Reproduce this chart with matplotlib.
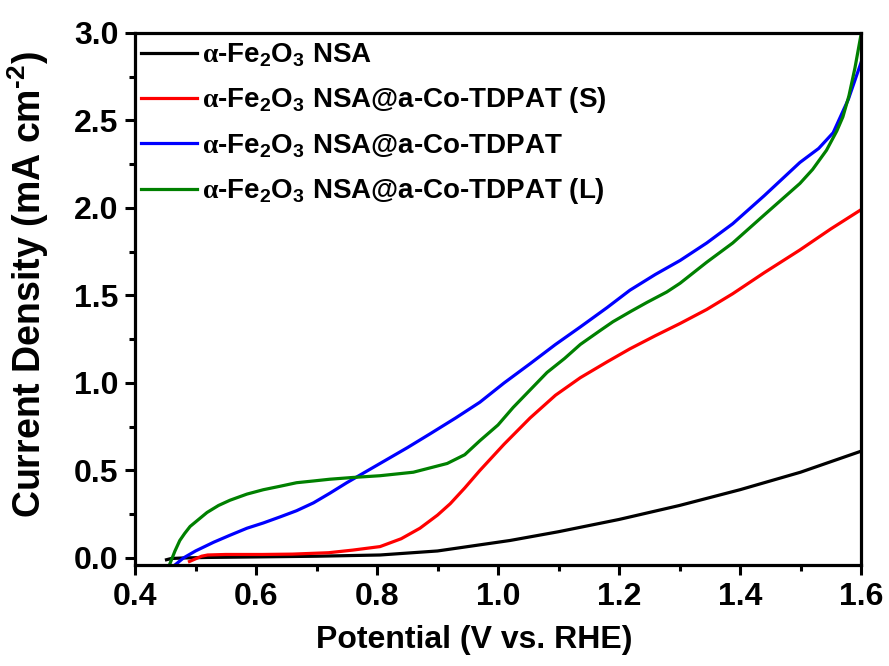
import matplotlib
matplotlib.use("Agg")
import matplotlib.pyplot as plt
from matplotlib.ticker import MultipleLocator

plt.rcParams['font.family'] = ['Liberation Sans', 'DejaVu Sans']
plt.rcParams['font.weight'] = 'bold'
plt.rcParams['mathtext.fontset'] = 'custom'
plt.rcParams['mathtext.rm'] = 'Liberation Serif'
plt.rcParams['mathtext.bf'] = 'Liberation Sans:bold'
plt.rcParams['mathtext.it'] = 'Liberation Sans:bold'

labels = [
    r'$\mathrm{α}$-Fe$_\mathbf{2}$O$_\mathbf{3}$ NSA',
    r'$\mathrm{α}$-Fe$_\mathbf{2}$O$_\mathbf{3}$ NSA@a-Co-TDPAT (S)',
    r'$\mathrm{α}$-Fe$_\mathbf{2}$O$_\mathbf{3}$ NSA@a-Co-TDPAT',
    r'$\mathrm{α}$-Fe$_\mathbf{2}$O$_\mathbf{3}$ NSA@a-Co-TDPAT (L)',
]
colors = ['black', 'red', 'blue', 'green']

black_x = [0.452, 0.46, 0.48, 0.52, 0.6, 0.7, 0.805, 0.9, 1.02, 1.1, 1.2, 1.3, 1.4, 1.5, 1.6]
black_y = [-0.01, -0.003, 0.0, 0.003, 0.006, 0.01, 0.017, 0.04, 0.10, 0.15, 0.22, 0.30, 0.39, 0.49, 0.61]

red_x = [0.49, 0.50, 0.51, 0.52, 0.55, 0.61, 0.66, 0.72, 0.76, 0.805, 0.84, 0.871, 0.90, 0.921,
         0.945, 0.97, 1.01, 1.053, 1.095, 1.136, 1.18, 1.218, 1.26, 1.301, 1.345, 1.388, 1.44,
         1.499, 1.55, 1.6]
red_y = [-0.02, -0.005, 0.01, 0.017, 0.02, 0.02, 0.022, 0.03, 0.045, 0.065, 0.11, 0.17, 0.245, 0.31,
         0.40, 0.50, 0.65, 0.80, 0.93, 1.03, 1.12, 1.195, 1.27, 1.34, 1.42, 1.51, 1.63,
         1.76, 1.88, 1.99]

blue_x = [0.466, 0.48, 0.50, 0.53, 0.557, 0.585, 0.612, 0.64, 0.667, 0.695, 0.722, 0.75, 0.78, 0.805,
          0.85, 0.888, 0.93, 0.97, 1.01, 1.053, 1.095, 1.136, 1.18, 1.218, 1.26, 1.301, 1.345, 1.388,
          1.44, 1.499, 1.53, 1.554, 1.579, 1.6]
blue_y = [-0.04, 0.00, 0.04, 0.09, 0.13, 0.17, 0.20, 0.235, 0.27, 0.315, 0.37, 0.43, 0.49, 0.54,
          0.63, 0.71, 0.80, 0.89, 1.00, 1.11, 1.22, 1.32, 1.43, 1.53, 1.62, 1.70, 1.80, 1.91,
          2.07, 2.26, 2.34, 2.43, 2.62, 2.83]

green_x = [0.458, 0.466, 0.474, 0.482, 0.491, 0.505, 0.519, 0.538, 0.557, 0.585, 0.612, 0.64, 0.667,
           0.695, 0.722, 0.76, 0.805, 0.86, 0.916, 0.945, 0.97, 1.0, 1.025, 1.053, 1.081, 1.11, 1.136,
           1.169, 1.19, 1.22, 1.246, 1.279, 1.301, 1.345, 1.388, 1.44, 1.499, 1.52, 1.543, 1.56, 1.57,
           1.58, 1.59, 1.6]
green_y = [-0.03, 0.04, 0.10, 0.14, 0.18, 0.22, 0.26, 0.30, 0.33, 0.365, 0.39, 0.41, 0.43,
           0.44, 0.45, 0.46, 0.47, 0.49, 0.54, 0.59, 0.67, 0.76, 0.86, 0.96, 1.06, 1.14, 1.22,
           1.30, 1.35, 1.41, 1.46, 1.52, 1.57, 1.69, 1.80, 1.96, 2.14, 2.22, 2.33, 2.44, 2.52,
           2.64, 2.8, 2.99]

series = [(black_x, black_y), (red_x, red_y), (blue_x, blue_y), (green_x, green_y)]

fig = plt.figure(figsize=(8.89, 6.66), dpi=100)
ax = fig.add_axes([0.1519, 0.1517, 0.8166, 0.7988])

for (xs, ys), c, lab in zip(series, colors, labels):
    ax.plot(xs, ys, color=c, lw=2.3, label=lab)

ax.set_xlim(0.4, 1.6)
ax.set_ylim(-0.04, 3.0)
ax.xaxis.set_major_locator(MultipleLocator(0.2))
ax.xaxis.set_minor_locator(MultipleLocator(0.1))
ax.yaxis.set_major_locator(MultipleLocator(0.5))
ax.yaxis.set_minor_locator(MultipleLocator(0.25))
ax.tick_params(which='both', direction='out', width=2.2, top=False, right=False)
ax.tick_params(which='major', length=7, labelsize=23, pad=5)
ax.tick_params(which='minor', length=4)
for s in ax.spines.values():
    s.set_linewidth(2.3)

ax.set_xlabel('Potential (V vs. RHE)', fontsize=23, fontweight='bold')
ax.xaxis.set_label_coords(0.467, -0.141)
ax.xaxis.label.set_va('center')
ax.set_ylabel('Current Density (mA cm$^\\mathbf{\u2010 2}$)', fontsize=27, fontweight='bold')
ax.yaxis.set_label_coords(-0.147, 0.526)
ax.yaxis.label.set_va('center')

ax.legend(loc='upper left', frameon=False, fontsize=20, handlelength=2.0,
          borderaxespad=0.25, labelspacing=0.6, handletextpad=0.2, borderpad=0.05,
          bbox_to_anchor=(-0.003, 1.0))

fig.savefig('out.png', dpi=100)
